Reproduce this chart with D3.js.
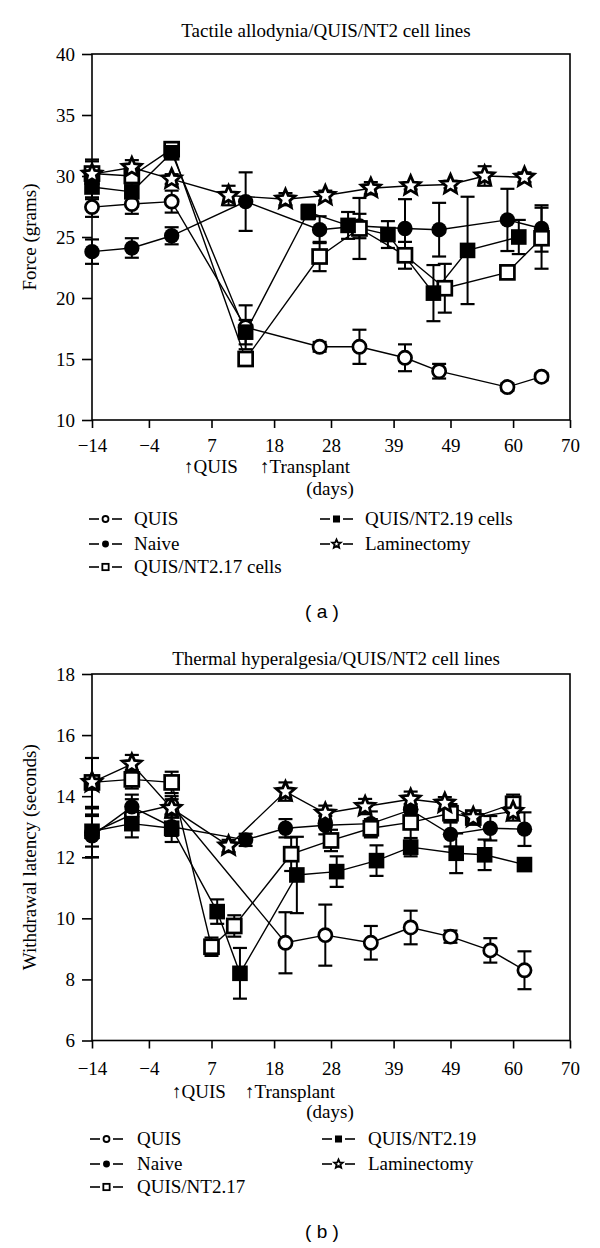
<!DOCTYPE html>
<html><head><meta charset="utf-8">
<script src="https://cdn.jsdelivr.net/npm/d3@7"></script>
<style>body{margin:0;background:#fff} svg{display:block}</style>
</head><body>
<script>
// ---------- shared ----------
const xTickValues = [-14, -4, 7, 18, 28, 39, 49, 60, 70];
const aYTickValues = [10, 15, 20, 25, 30, 35, 40];
const bYTickValues = [6, 8, 10, 12, 14, 16, 18];
const markerTypes = ["openCircle", "filledCircle", "openSquare", "filledSquare", "star"];
const namesA = ["QUIS", "Naive", "QUIS/NT2.17 cells", "QUIS/NT2.19 cells", "Laminectomy"];
const namesB = ["QUIS", "Naive", "QUIS/NT2.17", "QUIS/NT2.19", "Laminectomy"];

// ---------- panel (a): tactile allodynia, force (grams) ----------
const aQuisDays = [-14, -7, 0, 13, 26, 33, 41, 47, 59, 65];
const aQuisVals = [27.45, 27.7, 27.9, 17.6, 16.0, 16.0, 15.1, 14.0, 12.7, 13.55];
const aQuisErr  = [0.8, 0.8, 0.9, 1.8, 0.4, 1.4, 1.1, 0.6, 0.3, 0.3];

const aNaiveDays = [-14, -7, 0, 13, 26, 33, 41, 47, 59, 65];
const aNaiveVals = [23.8, 24.1, 25.1, 27.9, 25.6, 25.9, 25.7, 25.6, 26.4, 25.7];
const aNaiveErr  = [1.0, 0.8, 0.7, 2.4, 1.1, 1.0, 2.4, 2.2, 2.55, 1.9];

const aNT17Days = [-14, -7, 0, 13, 26, 33, 41, 48, 59, 65];
const aNT17Vals = [30.2, 30.0, 32.2, 15.0, 23.4, 25.7, 23.5, 20.8, 22.1, 24.9];
const aNT17Err  = [1.0, 0.8, 0.5, 0.5, 1.2, 2.5, 1.1, 2.0, 0.3, 2.5];

const aNT19Days = [-14, -7, 0, 13, 24, 31, 38, 46, 52, 61];
const aNT19Vals = [29.1, 28.7, 31.9, 17.2, 27.05, 25.95, 25.2, 20.4, 23.9, 25.0];
const aNT19Err  = [1.0, 1.2, 0.5, 1.0, 0.6, 1.1, 1.1, 2.3, 4.4, 1.4];

const aLamDays = [-14, -7, 0, 10, 20, 27, 35, 42, 49, 55, 62];
const aLamVals = [30.15, 30.7, 29.75, 28.4, 28.1, 28.4, 29.0, 29.2, 29.3, 30.0, 29.9];
const aLamErr  = [1.2, 0.6, 0.4, 0.8, 0.5, 0.4, 0.5, 0.3, 0.3, 0.8, 0.4];

// ---------- panel (b): thermal hyperalgesia, latency (s) ----------
const bQuisDays = [-14, -7, 0, 20, 27, 35, 42, 49, 56, 62];
const bQuisVals = [12.8, 13.4, 13.7, 9.2, 9.45, 9.2, 9.7, 9.4, 8.95, 8.3];
const bQuisErr  = [0.8, 0.5, 0.3, 1.0, 1.0, 0.55, 0.55, 0.2, 0.4, 0.62];

const bNaiveDays = [-14, -7, 0, 13, 20, 27, 35, 42, 49, 56, 62];
const bNaiveVals = [12.7, 13.65, 13.0, 12.57, 12.95, 13.05, 13.1, 13.55, 12.75, 12.95, 12.92];
const bNaiveErr  = [0.7, 0.4, 0.3, 0.2, 0.3, 0.3, 0.4, 0.4, 0.4, 0.4, 0.55];

const bNT17Days = [-14, -7, 0, 7, 11, 21, 28, 35, 42, 49, 53, 60];
const bNT17Vals = [14.45, 14.55, 14.45, 9.07, 9.75, 12.1, 12.55, 12.95, 13.14, 13.44, 13.3, 13.75];
const bNT17Err  = [0.8, 0.3, 0.35, 0.3, 0.35, 0.55, 0.35, 0.3, 0.6, 0.3, 0.2, 0.3];

const bNT19Days = [-14, -7, 0, 8, 12, 22, 29, 36, 42, 50, 55, 62];
const bNT19Vals = [12.85, 13.1, 12.95, 10.22, 8.2, 11.42, 11.53, 11.89, 12.33, 12.13, 12.08, 11.76];
const bNT19Err  = [0.5, 0.45, 0.45, 0.4, 0.83, 1.25, 0.5, 0.5, 0.3, 0.65, 0.5, 0.2];

const bLamDays = [-14, -7, 0, 10, 20, 27, 34, 42, 48, 53, 60];
const bLamVals = [14.45, 15.05, 13.6, 12.37, 14.15, 13.44, 13.66, 13.9, 13.77, 13.3, 13.5];
const bLamErr  = [0.2, 0.3, 0.3, 0.2, 0.3, 0.25, 0.25, 0.25, 0.2, 0.2, 0.3];

function build(names, days, vals, errs) {
  return names.map((n, i) => ({
    name: n, type: markerTypes[i],
    pts: days[i].map((d, j) => ({x: d, y: vals[i][j], e: errs[i][j]}))
  }));
}
const seriesA = build(namesA,
  [aQuisDays, aNaiveDays, aNT17Days, aNT19Days, aLamDays],
  [aQuisVals, aNaiveVals, aNT17Vals, aNT19Vals, aLamVals],
  [aQuisErr, aNaiveErr, aNT17Err, aNT19Err, aLamErr]);
const seriesB = build(namesB,
  [bQuisDays, bNaiveDays, bNT17Days, bNT19Days, bLamDays],
  [bQuisVals, bNaiveVals, bNT17Vals, bNT19Vals, bLamVals],
  [bQuisErr, bNaiveErr, bNT17Err, bNT19Err, bLamErr]);

const SERIF = "'Liberation Serif', 'Times New Roman', serif";
const svg = d3.select("body").append("svg").attr("width", 600).attr("height", 1248);

function starPath(R, r) {
  let p = "";
  for (let i = 0; i < 10; i++) {
    const a = -Math.PI / 2 + i * Math.PI / 5;
    const rr = i % 2 ? r : R;
    p += (i ? "L" : "M") + (rr * Math.cos(a)).toFixed(2) + "," + (rr * Math.sin(a)).toFixed(2);
  }
  return p + "Z";
}

function drawMarker(g, type, cx, cy, k) {
  const m = g.append("g").attr("transform", `translate(${cx},${cy})`);
  if (type === "openCircle") m.append("circle").attr("r", 6.6 * k).attr("fill", "#fff").attr("stroke", "#000").attr("stroke-width", 2.7 * Math.sqrt(k));
  else if (type === "filledCircle") m.append("circle").attr("r", 7.7 * k).attr("fill", "#000");
  else if (type === "openSquare") m.append("rect").attr("x", -7 * k).attr("y", -7 * k).attr("width", 14 * k).attr("height", 14 * k).attr("fill", "#fff").attr("stroke", "#000").attr("stroke-width", 2.7 * Math.sqrt(k));
  else if (type === "filledSquare") m.append("rect").attr("x", -7.8 * k).attr("y", -7.8 * k).attr("width", 15.6 * k).attr("height", 15.6 * k).attr("fill", "#000");
  else if (type === "star") m.append("path").attr("d", starPath(10 * k, 4.6 * k)).attr("fill", "#fff").attr("stroke", "#000").attr("stroke-width", 2.8 * Math.sqrt(k)).attr("stroke-linejoin", "miter");
}

function panel(cfg) {
  const g = svg.append("g");
  const x = d3.scaleLinear().domain([-14, 70]).range([92, 570]);
  const y = d3.scaleLinear().domain(cfg.yDomain).range([cfg.bottom, cfg.top]);
  const fmt = v => (v < 0 ? "\u2212" + Math.abs(v) : String(v));

  // frame
  g.append("rect").attr("x", 92).attr("y", cfg.top).attr("width", 478).attr("height", cfg.bottom - cfg.top)
    .attr("fill", "none").attr("stroke", "#000").attr("stroke-width", 1.6);

  const ax = g.append("g").attr("transform", `translate(0,${cfg.bottom})`)
    .call(d3.axisBottom(x).tickValues(xTickValues).tickSize(8).tickSizeOuter(0).tickFormat(fmt));
  ax.select(".domain").remove();
  ax.selectAll("line").attr("stroke-width", 1.6);
  ax.selectAll("text").attr("font-family", SERIF).attr("font-size", 19).attr("y", cfg.tickBase - cfg.bottom).attr("dy", 0);

  const ay = g.append("g").attr("transform", `translate(92,0)`)
    .call(d3.axisLeft(y).tickValues(cfg.yTicks).tickSize(10).tickSizeOuter(0).tickPadding(7).tickFormat(fmt));
  ay.select(".domain").remove();
  ay.selectAll("line").attr("stroke-width", 1.6);
  ay.selectAll("text").attr("font-family", SERIF).attr("font-size", 19).attr("dy", "0.34em");

  // title & axis labels
  g.append("text").attr("x", cfg.titleX).attr("y", cfg.titleY).attr("text-anchor", "middle")
    .attr("font-family", SERIF).attr("font-size", 19).text(cfg.title);
  g.append("text").attr("transform", `translate(36,${(cfg.top + cfg.bottom) / 2}) rotate(-90)`)
    .attr("text-anchor", "middle").attr("font-family", SERIF).attr("font-size", 19).text(cfg.yLabel);
  g.append("text").attr("x", cfg.quisX).attr("y", cfg.arrowY).attr("font-family", SERIF).attr("font-size", 19).text("\u2191QUIS");
  g.append("text").attr("x", cfg.transX).attr("y", cfg.arrowY).attr("font-family", SERIF).attr("font-size", 19).text("\u2191Transplant");
  g.append("text").attr("x", 330).attr("y", cfg.daysY).attr("text-anchor", "middle").attr("font-family", SERIF).attr("font-size", 19).text("(days)");

  // data: lines, error bars, markers
  const line = d3.line().x(d => x(d.x)).y(d => y(d.y));
  cfg.series.forEach(s => {
    g.append("path").attr("d", line(s.pts)).attr("fill", "none").attr("stroke", "#000").attr("stroke-width", 1.4);
  });
  cfg.series.forEach(s => {
    s.pts.forEach(p => {
      const cx = x(p.x), y1 = y(p.y + p.e), y2 = y(p.y - p.e);
      g.append("line").attr("x1", cx).attr("x2", cx).attr("y1", y1).attr("y2", y2).attr("stroke", "#000").attr("stroke-width", 2);
      [y1, y2].forEach(yy => g.append("line").attr("x1", cx - 7).attr("x2", cx + 7).attr("y1", yy).attr("y2", yy).attr("stroke", "#000").attr("stroke-width", 2.2));
    });
  });
  cfg.series.forEach(s => {
    s.pts.forEach(p => drawMarker(g, s.type, x(p.x), y(p.y), 1));
  });

  // legend
  const cols = [[0, 1, 2], [3, 4]];
  cols.forEach((idxs, c) => {
    idxs.forEach((si, r) => {
      const base = cfg.legRows[r];
      const sx = cfg.legSymX[c], cy = base - 6;
      const lg = g.append("g");
      lg.append("line").attr("x1", sx).attr("x2", sx + 10).attr("y1", cy).attr("y2", cy).attr("stroke", "#000").attr("stroke-width", 1.6);
      lg.append("line").attr("x1", sx + 23).attr("x2", sx + 33).attr("y1", cy).attr("y2", cy).attr("stroke", "#000").attr("stroke-width", 1.6);
      drawMarker(lg, cfg.series[si].type, sx + 16.5, cy, 0.45);
      lg.append("text").attr("x", cfg.legTextX[c]).attr("y", base).attr("font-family", SERIF).attr("font-size", 19).text(cfg.series[si].name);
    });
  });

  g.append("text").attr("x", 322).attr("y", cfg.tagY).attr("text-anchor", "middle")
    .attr("font-family", "'Liberation Sans', Arial, sans-serif").attr("font-size", 19).attr("xml:space", "preserve").text("( " + cfg.tag + " )");
}

panel({
  series: seriesA, yDomain: [10, 40], yTicks: aYTickValues, top: 54, bottom: 420,
  title: "Tactile allodynia/QUIS/NT2 cell lines", titleX: 326, titleY: 37,
  yLabel: "Force (grams)", tickBase: 452, arrowY: 473, quisX: 184, transX: 260, daysY: 495,
  legRows: [525, 550, 573], legSymX: [89, 320], legTextX: [134, 365], tag: "a", tagY: 618
});
panel({
  series: seriesB, yDomain: [6, 18], yTicks: bYTickValues, top: 674, bottom: 1040.5,
  title: "Thermal hyperalgesia/QUIS/NT2 cell lines", titleX: 336, titleY: 665,
  yLabel: "Withdrawal latency (seconds)", tickBase: 1075, arrowY: 1098, quisX: 172, transX: 245, daysY: 1118,
  legRows: [1145, 1170, 1193], legSymX: [90, 322], legTextX: [137, 368], tag: "b", tagY: 1238
});
</script>
</body></html>
